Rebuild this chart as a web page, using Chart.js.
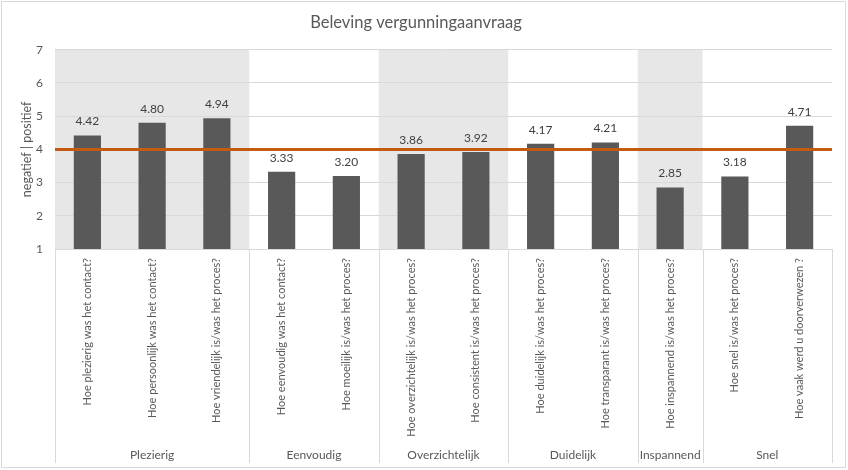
<!DOCTYPE html>
<html>
<head>
<meta charset="utf-8">
<title>Beleving vergunningaanvraag</title>
<script src="https://cdn.jsdelivr.net/npm/chart.js@4/dist/chart.umd.min.js"></script>
<style>
  html, body { margin: 0; padding: 0; background: #fff; }
  #wrap { width: 848px; height: 470px; }
</style>
</head>
<body>
<div id="wrap"><canvas id="chart" width="848" height="470"></canvas></div>
<script>
// Data
const questions = [
    'Hoe plezierig was het contact?',
    'Hoe persoonlijk was het contact?',
    'Hoe vriendelijk is/was het proces?',
    'Hoe eenvoudig was het contact?',
    'Hoe moeilijk is/was het proces?',
    'Hoe overzichtelijk is/was het proces?',
    'Hoe consistent is/was het proces?',
    'Hoe duidelijk is/was het proces?',
    'Hoe transparant is/was het proces?',
    'Hoe inspannend is/was het proces?',
    'Hoe snel is/was het proces?',
    'Hoe vaak werd u doorverwezen ?'
];
const scores = [4.42, 4.80, 4.94, 3.33, 3.20, 3.86, 3.92, 4.17, 4.21, 2.85, 3.18, 4.71];
const groupNames = ['Plezierig', 'Eenvoudig', 'Overzichtelijk', 'Duidelijk', 'Inspannend', 'Snel'];
const groupSizes = [3, 2, 2, 2, 1, 2];
const shadedGroups = [true, false, true, false, true, false];
const neutralScore = 4;
const yTicks = [1, 2, 3, 4, 5, 6, 7];

const FONT = 'Lato, "Open Sans", sans-serif';
const TEXT = '#595959';
const GRID = '#d9d9d9';

// left edges of every group, plus the right edge at the end
function groupEdges(x) {
    const half = (x.getPixelForValue(1) - x.getPixelForValue(0)) / 2;
    const edges = [];
    let idx = 0;
    groupSizes.forEach(n => {
        edges.push(x.getPixelForValue(idx) - half);
        idx += n;
    });
    edges.push(x.getPixelForValue(idx - 1) + half);
    return edges;
}

const groupPlugin = {
    id: 'groupPlugin',
    beforeDraw(chart) {
        const { ctx, chartArea, scales: { x } } = chart;
        const edges = groupEdges(x);
        ctx.save();
        ctx.fillStyle = '#fff';
        ctx.fillRect(0, 0, chart.width, chart.height);
        ctx.fillStyle = '#e7e7e7';
        shadedGroups.forEach((on, g) => {
            if (!on) return;
            ctx.fillRect(edges[g], chartArea.top, edges[g + 1] - edges[g], chartArea.bottom - chartArea.top);
        });
        ctx.restore();
    },
    afterDatasetsDraw(chart) {
        const { ctx, chartArea, scales: { y } } = chart;
        ctx.save();
        // reference line
        const yPos = y.getPixelForValue(neutralScore);
        ctx.strokeStyle = '#c55a11';
        ctx.lineWidth = 3;
        ctx.beginPath();
        ctx.moveTo(chartArea.left, yPos);
        ctx.lineTo(chartArea.right, yPos);
        ctx.stroke();

        // value labels
        ctx.fillStyle = '#404040';
        ctx.font = '12px ' + FONT;
        ctx.textAlign = 'center';
        ctx.textBaseline = 'middle';
        chart.getDatasetMeta(0).data.forEach((bar, i) => {
            ctx.fillText(scores[i].toFixed(2), bar.x, bar.y - 14);
        });
        ctx.restore();
    },
    afterDraw(chart) {
        const { ctx, chartArea, scales: { x } } = chart;
        const edges = groupEdges(x);
        ctx.save();
        ctx.strokeStyle = GRID;
        ctx.lineWidth = 1;
        edges.forEach(e => {
            const px = Math.round(e) + 0.5;
            ctx.beginPath();
            ctx.moveTo(px, chartArea.bottom);
            ctx.lineTo(px, 463);
            ctx.stroke();
        });
        ctx.fillStyle = TEXT;
        ctx.font = '12px ' + FONT;
        ctx.textAlign = 'center';
        ctx.textBaseline = 'middle';
        groupNames.forEach((name, g) => {
            ctx.fillText(name, (edges[g] + edges[g + 1]) / 2, 455);
        });
        // outer frame
        ctx.strokeStyle = GRID;
        ctx.strokeRect(1.5, 1.5, 844, 466);
        ctx.restore();
    }
};

const ctx = document.getElementById('chart').getContext('2d');
const chart = new Chart(ctx, {
    type: 'bar',
    data: {
        labels: questions,
        datasets: [{
            label: 'Score',
            data: scores,
            backgroundColor: '#595959',
            barPercentage: 0.42,
            categoryPercentage: 1
        }]
    },
    options: {
        responsive: false,
        animation: false,
        layout: { padding: { left: 0, right: 16, top: 0, bottom: 0 } },
        plugins: {
            legend: { display: false },
            tooltip: { enabled: false },
            title: {
                display: true,
                text: 'Beleving vergunningaanvraag',
                color: TEXT,
                font: { family: FONT, size: 16.5, weight: 'normal' },
                padding: { top: 13, bottom: 17 }
            }
        },
        scales: {
            x: {
                grid: { display: false, drawTicks: false },
                border: { display: false },
                ticks: {
                    color: TEXT,
                    font: { family: FONT, size: 11 },
                    minRotation: 90,
                    maxRotation: 90,
                    autoSkip: false,
                    padding: 9
                },
                afterFit(scale) { scale.height = 221; }
            },
            y: {
                min: yTicks[0],
                max: yTicks[yTicks.length - 1],
                grid: { color: GRID, drawTicks: false },
                border: { display: false },
                ticks: {
                    stepSize: 1,
                    color: TEXT,
                    font: { family: FONT, size: 12 },
                    padding: 12
                },
                title: {
                    display: true,
                    text: 'negatief | positief',
                    color: TEXT,
                    font: { family: FONT, size: 12.5 },
                    padding: { top: 19, bottom: 0 }
                },
                afterFit(scale) { scale.width = 55; }
            }
        }
    },
    plugins: [groupPlugin]
});
</script>
</body>
</html>
